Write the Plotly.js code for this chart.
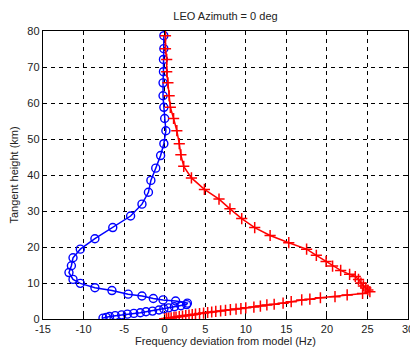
<!DOCTYPE html>
<html><head><meta charset="utf-8">
<script src="https://cdn.plot.ly/plotly-3.0.1.min.js"></script>
<style>html,body{margin:0;padding:0;background:#fff}#c{width:410px;height:349px}</style>
</head><body><div id="c"></div>
<script>
// Blue (circles): frequency deviation (Hz) and tangent height (km)
const blueX = [-0.1,-0.1,-0.15,-0.15,-0.2,-0.2,-0.1,0.0,0.15,-0.1,-0.5,-1.1,-1.7,-2.0,-2.8,-4.2,-6.4,-8.6,-10.4,-11.3,-11.5,-11.8,-11.3,-10.4,-8.6,-6.5,-4.5,-2.8,-1.4,-0.2,1.35,2.8,2.7,2.0,1.2,0.5,-0.1,-0.7,-1.5,-2.3,-3.0,-3.8,-4.6,-5.3,-6.1,-6.8,-7.2,-7.6];
const blueH = [78.7,75.1,72.1,68.7,65.6,62.0,58.8,55.7,52.3,48.7,45.4,41.9,38.5,35.2,31.9,28.6,25.4,22.3,19.4,17.0,14.8,12.9,11.0,9.9,8.7,7.9,6.9,6.4,5.7,5.3,5.0,4.4,4.0,3.7,3.4,3.1,2.8,2.5,2.2,2.0,1.75,1.55,1.35,1.15,0.95,0.7,0.45,0.25];
// Red (crosses)
const redX = [0.1,0.1,0.25,0.25,0.4,0.55,0.7,1.1,1.5,1.8,2.0,2.35,3.3,4.9,6.7,8.05,9.5,11.1,13.0,15.3,17.5,18.7,19.9,20.7,21.7,22.8,23.5,23.9,24.2,24.5,24.8,25.05,25.3,
  24.4,22.5,21.0,19.2,17.9,16.9,15.6,14.6,13.5,12.6,11.8,11.0,10.0,9.4,8.8,8.1,7.5,6.9,6.3,5.8,5.3,4.8,4.3,3.8,3.4,3.0,2.6,2.2,1.8,1.4,1.15,0.8,0.5,0.25,0.0];
const redH = [78.7,75.1,72.1,68.7,65.6,62.0,58.8,55.7,52.3,48.7,45.6,42.4,39.2,36.0,33.3,30.6,27.9,25.4,23.2,21.2,19.4,17.7,16.0,14.7,13.5,12.4,11.8,11.0,10.0,9.2,8.6,8.05,7.6,
  7.1,6.7,6.2,5.9,5.5,5.3,4.8,4.4,4.1,3.9,3.6,3.3,3.1,2.9,2.75,2.6,2.4,2.25,2.1,1.95,1.8,1.65,1.5,1.35,1.2,1.05,0.95,0.8,0.7,0.55,0.45,0.35,0.25,0.15,0.05];
const xTicks = [-15,-10,-5,0,5,10,15,20,25,30];
const yTicks = [0,10,20,30,40,50,60,70,80];
const titleText = "LEO Azimuth = 0 deg";
const xTitle = "Frequency deviation from model (Hz)";
const yTitle = "Tangent height (km)";

const traces = [
  {x: blueX, y: blueH, mode: 'lines+markers', type: 'scatter',
   line: {color: '#0000ff', width: 1.5},
   marker: {symbol: 'circle-open', size: 8, color: '#0000ff', line: {width: 1.4, color: '#0000ff'}}},
  {x: redX, y: redH, mode: 'lines+markers', type: 'scatter',
   line: {color: '#ff0000', width: 1.5},
   marker: {symbol: 'cross-thin-open', size: 8, color: '#ff0000', line: {width: 1.5, color: '#ff0000'}}}
];
const axisCommon = {
  showline: true, linecolor: '#000', linewidth: 1.2, mirror: 'ticks',
  ticks: 'inside', ticklen: 4, tickcolor: '#000',
  showgrid: true, gridcolor: '#000', gridwidth: 1, griddash: '4px,4px',
  zeroline: false, tickfont: {size: 11, color: '#222'}, ticklabeloverflow: 'allow'
};
const layout = {
  width: 410, height: 349,
  margin: {l: 43, r: 2, t: 31, b: 30},
  paper_bgcolor: '#fff', plot_bgcolor: '#fff',
  font: {family: 'Liberation Sans, Arial, sans-serif', size: 11, color: '#222'},
  showlegend: false,
  title: {text: titleText, x: 0.55, xanchor: 'center', y: 0.955, yanchor: 'middle', font: {size: 11, color: '#222'}},
  xaxis: Object.assign({}, axisCommon, {range: [-15, 30], tickvals: xTicks, ticktext: xTicks.map(String),
    title: {text: xTitle, font: {size: 11, color: '#222'}, standoff: 2}}),
  yaxis: Object.assign({}, axisCommon, {range: [0, 80], tickvals: yTicks, ticktext: yTicks.map(String),
    title: {text: yTitle, font: {size: 11, color: '#222'}, standoff: 6}})
};
Plotly.newPlot('c', traces, layout, {displayModeBar: false, staticPlot: true});
</script></body></html>
